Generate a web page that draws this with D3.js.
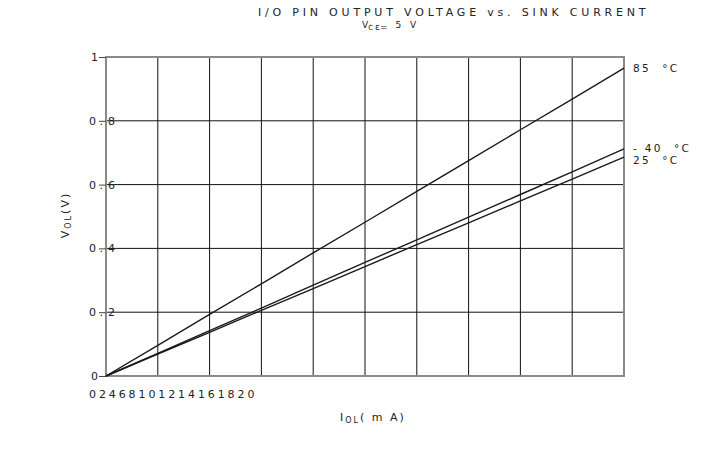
<!DOCTYPE html>
<html>
<head>
<meta charset="utf-8">
<script src="https://cdn.jsdelivr.net/npm/d3@7"></script>
<style>
  body { margin: 0; background: #fff; }
  text { font-family: "DejaVu Sans", Verdana, sans-serif; fill: #222; }
</style>
</head>
<body>
<svg id="chart" width="720" height="449"></svg>
<script>
// sink current (mA) and output voltage (V) per temperature
var current = [0, 2, 4, 6, 8, 10, 12, 14, 16, 18, 20];
var v85 = [0, 0.096, 0.193, 0.289, 0.386, 0.482, 0.579, 0.675, 0.772, 0.868, 0.965];
var vm40 = [0, 0.071, 0.142, 0.213, 0.285, 0.356, 0.427, 0.498, 0.569, 0.640, 0.712];
var v25 = [0, 0.069, 0.137, 0.206, 0.274, 0.343, 0.412, 0.480, 0.549, 0.617, 0.686];
var seriesNames = ["85  \u00b0C", "- 40  \u00b0C", "25  \u00b0C"];
var yTicks = [0, 0.2, 0.4, 0.6, 0.8, 1];
var yTickLabels = ["0", "0 .", "0 .", "0 .", "0 .", "1"];
var yTickDigits = ["", "2", "4", "6", "8", ""];

var svg = d3.select("#chart");
var dim = {L: 106, R: 624, T: 57, B: 376};

var x = d3.scaleLinear().domain([0, 20]).range([dim.L, dim.R]);
var y = d3.scaleLinear().domain([0, 1]).range([dim.B, dim.T]);

// grid
svg.append("g")
	.selectAll("line")
	.data(current.slice(1, -1))
	.join("line")
		.attr("x1", d => x(d)).attr("x2", d => x(d))
		.attr("y1", dim.T).attr("y2", dim.B)
		.attr("stroke", "#111").attr("stroke-width", 1);

svg.append("g")
	.selectAll("line")
	.data(yTicks.slice(1, -1))
	.join("line")
		.attr("x1", dim.L).attr("x2", dim.R)
		.attr("y1", d => y(d)).attr("y2", d => y(d))
		.attr("stroke", "#111").attr("stroke-width", 1);

// frame
svg.append("rect")
	.attr("x", dim.L).attr("y", dim.T)
	.attr("width", dim.R - dim.L).attr("height", dim.B - dim.T)
	.attr("fill", "none").attr("stroke", "#8a8a8a").attr("stroke-width", 2);

// y axis ticks
var yAxis = d3.axisLeft(y)
	.tickValues(yTicks)
	.tickSize(7)
	.tickFormat("");

svg.append("g")
	.attr("transform", `translate(${dim.L},0)`)
	.call(yAxis)
	.call(g => g.select(".domain").remove())
	.call(g => g.selectAll(".tick line").attr("stroke", "#444"));

var yl = svg.append("g")
	.selectAll("text")
	.data(yTicks)
	.join("text")
		.attr("x", (d, i) => i == 0 || i == 5 ? 91 : 89)
		.attr("y", d => y(d) + 4)
		.attr("font-size", 11);
yl.append("tspan").text((d, i) => yTickLabels[i]);
yl.append("tspan").attr("dx", 5).text((d, i) => yTickDigits[i]);

// x tick labels (packed together as in the original)
svg.append("text")
	.attr("x", 89).attr("y", 398)
	.attr("font-size", 11)
	.attr("letter-spacing", 2.9)
	.text(current.join(""));

// lines
var line = d3.line()
	.x((d, i) => x(current[i]))
	.y(d => y(d));

var series = [v85, vm40, v25];
svg.append("g")
	.selectAll("path")
	.data(series)
	.join("path")
		.attr("d", line)
		.attr("fill", "none")
		.attr("stroke", "#1a1a1a")
		.attr("stroke-width", 1.4);

// series labels
var labelDy = [4, 3, 7];
svg.append("g")
	.selectAll("text")
	.data(series)
	.join("text")
		.attr("x", 633)
		.attr("y", (d, i) => y(d[d.length - 1]) + labelDy[i])
		.attr("font-size", 10.5)
		.attr("letter-spacing", 2.3)
		.style("white-space", "pre")
		.text((d, i) => seriesNames[i]);

// title
svg.append("text")
	.attr("x", 258).attr("y", 16)
	.attr("font-size", 11)
	.attr("letter-spacing", 3.8)
	.text("I/O PIN OUTPUT VOLTAGE vs. SINK CURRENT");

var sub = svg.append("text")
	.attr("x", 362).attr("y", 28)
	.attr("font-size", 9);
sub.append("tspan").text("V");
sub.append("tspan").attr("font-size", 7).attr("dy", 2).text("C");
sub.append("tspan").attr("font-size", 9).attr("dy", 0).attr("dx", 2).text("\u03b5=");
sub.append("tspan").attr("dx", 8).attr("dy", -2).attr("letter-spacing", 3).text("5 V");

// axis titles
var yt = svg.append("text")
	.attr("transform", "translate(69,215) rotate(-90)")
	.attr("text-anchor", "middle")
	.attr("font-size", 11)
	.attr("letter-spacing", 2);
yt.append("tspan").text("V");
yt.append("tspan").attr("font-size", 8).attr("dy", 2).text("OL");
yt.append("tspan").attr("dy", -2).text("(V)");

var xt = svg.append("text")
	.attr("x", 340).attr("y", 421)
	.attr("font-size", 11)
	.attr("letter-spacing", 2);
xt.append("tspan").text("I");
xt.append("tspan").attr("font-size", 8).attr("dy", 2).text("OL");
xt.append("tspan").attr("dy", -2).text("( m A)");
</script>
</body>
</html>
